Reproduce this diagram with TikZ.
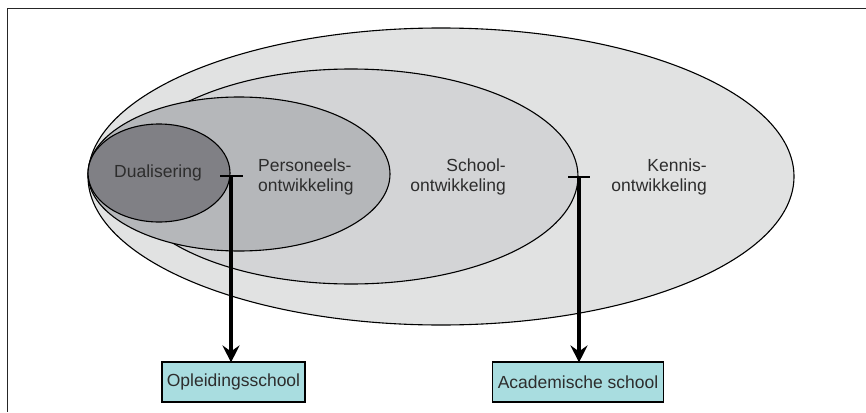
\documentclass[tikz,border=0pt]{standalone}
\usepackage{fontspec}
\setmainfont{Liberation Sans}
\usetikzlibrary{shapes.geometric,arrows.meta}
\definecolor{outerc}{RGB}{225,226,226}
\definecolor{midc}{RGB}{211,212,214}
\definecolor{persc}{RGB}{181,183,186}
\definecolor{dualc}{RGB}{128,128,133}
\definecolor{boxc}{RGB}{169,221,224}
\definecolor{txt}{RGB}{45,45,45}
\tikzset{
  oval/.style={ellipse, draw=black, line width=1.1pt, inner sep=0pt},
  lbl/.style={text=txt, font=\fontsize{17.5}{20}\selectfont, inner sep=0pt},
  outbox/.style={draw=black, line width=1.1pt, fill=boxc, minimum height=40pt, inner sep=0pt, text=txt, font=\fontsize{17.5}{20}\selectfont},
  tbar/.style={line width=1.6pt, black},
  bigarrow/.style={line width=4pt, black, -{Stealth[length=17pt,width=17pt,inset=6pt]}, shorten >=-1pt}
}
\begin{document}
\begin{tikzpicture}[x=1pt,y=-1pt]
\useasboundingbox (0,0) rectangle (866,412);
\draw[line width=1pt, black!85] (866,9) -- (7,9) -- (7,412);
% ellipses
\node[oval, fill=outerc, minimum width=706pt, minimum height=297pt] (kennis) at (441,176.5) {};
\node[oval, fill=midc, minimum width=454pt, minimum height=215pt] (school) at (351,176.5) {};
\node[oval, fill=persc, minimum width=302pt, minimum height=154pt] (pers) at (239,174) {};
\node[oval, fill=dualc, minimum width=142pt, minimum height=98pt] (dual) at (159,173) {};
% labels
\node[lbl, anchor=center] (tdual) at (158,173) {Dualisering};
\node[lbl, align=left, anchor=west] (tpers) at (258,177) {Personeels-\\ontwikkeling};
\node[lbl, align=right, anchor=east] (tschool) at (506,177) {School-\\ontwikkeling};
\node[lbl, align=right, anchor=east] (tkennis) at (707,177) {Kennis-\\ontwikkeling};
% boxes
\node[outbox, minimum width=143pt] (opl) at (233.5,382) {Opleidingsschool};
\node[outbox, minimum width=171pt] (acad) at (578,382) {Academische school};
% connectors
\coordinate (t1) at (231,176);
\coordinate (t2) at (579,177);
\draw[tbar] ([xshift=-11pt]t1) -- ([xshift=12pt]t1);
\draw[tbar] ([xshift=-11pt]t2) -- ([xshift=11pt]t2);
\draw[bigarrow] (t1) -- (t1 |- opl.north);
\draw[bigarrow] (t2) -- (t2 |- acad.north);
\end{tikzpicture}
\end{document}
